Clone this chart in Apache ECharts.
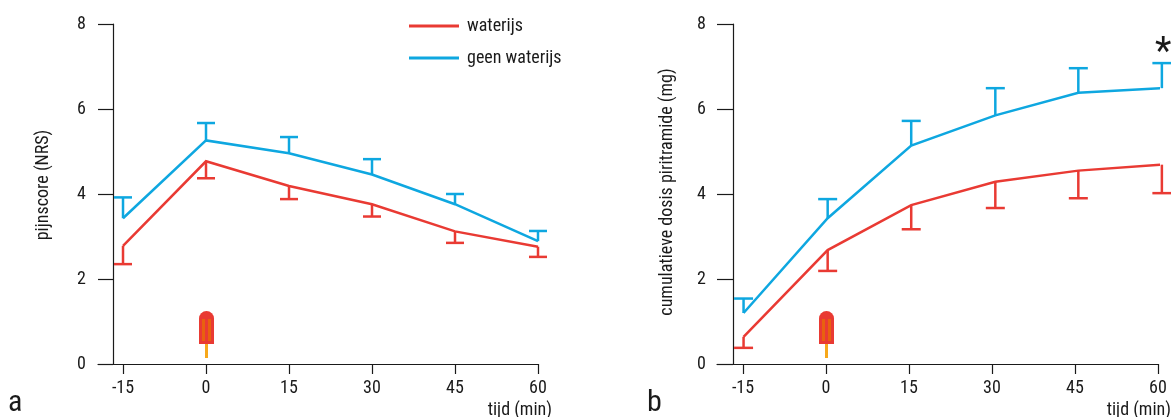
<!DOCTYPE html>
<html><head><meta charset="utf-8">
<style>html,body{margin:0;padding:0;background:#fff}#c{width:1171px;height:417px}</style>
<script src="https://cdn.jsdelivr.net/npm/echarts@6/dist/echarts.min.js"></script>
</head><body><div id="c"></div>
<script>
const tickLabels = [-15, 0, 15, 30, 45, 60];
const seriesNames = ['waterijs', 'geen waterijs'];
const popsicleAt = [0, 0];

const timesA = [-15, 0, 15, 30, 45, 60];
const waterijsA = [2.78, 4.77, 4.19, 3.76, 3.12, 2.76];
const waterijsLowA = [2.35, 4.37, 3.88, 3.47, 2.85, 2.52];
const geenA = [3.43, 5.26, 4.96, 4.46, 3.76, 2.89];
const geenHighA = [3.92, 5.67, 5.34, 4.82, 4.00, 3.13];

const timesB = [-14.9, 0.3, 15.4, 30.6, 45.6, 60.7];
const waterijsB = [0.64, 2.68, 3.74, 4.29, 4.55, 4.69];
const waterijsLowB = [0.38, 2.19, 3.17, 3.67, 3.90, 4.02];
const geenB = [1.20, 3.43, 5.14, 5.85, 6.38, 6.49];
const geenHighB = [1.54, 3.88, 5.72, 6.49, 6.96, 7.08];

const RED = '#e93a33', BLUE = '#0ea7e0', INK = '#1a1a1a';
const FONT = '"Roboto Condensed","Liberation Sans",sans-serif';
const FS = 18;

function zip(xs, ys) { return xs.map((x, i) => [x, ys[i]]); }
function line(name, xi, xs, ys, color) {
  return { type: 'line', name, xAxisIndex: xi, yAxisIndex: xi, data: zip(xs, ys), symbol: 'none',
    clip: false, lineStyle: { color, width: 2.5, join: 'miter' }, itemStyle: { color }, z: 3 };
}
function errors(xi, xs, ys, ends, color, capHalf) {
  return { type: 'custom', xAxisIndex: xi, yAxisIndex: xi, clip: false, silent: true, z: 2,
    data: xs.map((x, i) => [x, ys[i], ends[i]]), encode: { x: 0, y: [1, 2] },
    renderItem(p, api) {
      const a = api.coord([api.value(0), api.value(1)]);
      const b = api.coord([api.value(0), api.value(2)]);
      const st = { stroke: color, lineWidth: 2.5, fill: null };
      return { type: 'group', children: [
        { type: 'line', shape: { x1: a[0], y1: a[1], x2: b[0], y2: b[1] }, style: st },
        { type: 'line', shape: { x1: b[0] - capHalf, y1: b[1], x2: b[0] + capHalf, y2: b[1] }, style: st }
      ] };
    } };
}
function popsicle(xi) {
  return { type: 'custom', xAxisIndex: xi, yAxisIndex: xi, clip: false, silent: true, z: 2,
    data: [popsicleAt], encode: { x: 0, y: 1 },
    renderItem(p, api) {
      const c = api.coord([api.value(0), api.value(1)]);
      const x = c[0], y = c[1];
      return { type: 'group', children: [
        { type: 'rect', shape: { x: x - 1, y: y - 21, width: 3, height: 15 }, style: { fill: '#f7a81b' } },
        { type: 'rect', shape: { x: x - 7, y: y - 53, width: 15, height: 33, r: [7.5, 7.5, 0, 0] }, style: { fill: RED } },
        { type: 'rect', shape: { x: x - 4, y: y - 45, width: 3, height: 22 }, style: { fill: '#e8610f' } },
        { type: 'rect', shape: { x: x + 2, y: y - 45, width: 3, height: 22 }, style: { fill: '#e8610f' } }
      ] };
    } };
}
function xAxis(gi, min) {
  return { type: 'value', gridIndex: gi, min, max: 60, splitLine: { show: false },
    name: 'tijd (min)', nameLocation: 'end', nameGap: gi === 0 ? 14 : 13,
    nameTextStyle: { color: INK, fontFamily: FONT, fontSize: FS, align: 'right', verticalAlign: 'top', padding: [37, 0, 0, 0] },
    axisLine: { onZero: false, lineStyle: { color: INK, width: 1.2 } },
    axisTick: { length: 10, customValues: tickLabels, lineStyle: { color: INK, width: 1.2 } },
    axisLabel: { customValues: tickLabels, margin: 15, color: INK, fontFamily: FONT, fontSize: FS, hideOverlap: false } };
}
function yAxis(gi, offset, name, gap, shift) {
  return { type: 'value', gridIndex: gi, min: 0, max: 8, interval: 2, position: 'left', offset,
    splitLine: { show: false },
    name, nameLocation: 'middle', nameRotate: 90, nameGap: gap,
    nameTextStyle: { color: INK, fontFamily: FONT, fontSize: FS, padding: [0, 0, 0, shift] },
    axisLine: { show: true, onZero: false, lineStyle: { color: INK, width: 1.2 } },
    axisTick: { show: true, length: -offset, lineStyle: { color: INK, width: 1.2 } },
    axisLabel: { margin: 27, color: INK, fontFamily: FONT, fontSize: FS } };
}
const chart = echarts.init(document.getElementById('c'), null, { renderer: 'canvas' });
chart.setOption({
  animation: false,
  backgroundColor: '#fff',
  grid: [
    { left: 98, right: 633, top: 24, bottom: 53, outerBoundsMode: 'none' },
    { left: 717, right: 13, top: 24, bottom: 53, outerBoundsMode: 'none' }
  ],
  xAxis: [xAxis(0, -19.52), xAxis(1, -19.7)],
  yAxis: [yAxis(0, -15, 'pijnscore (NRS)', 61, 18), yAxis(1, -16, 'cumulatieve dosis piritramide (mg)', 57, 4)],
  legend: {
    left: 404, top: 11, orient: 'vertical', itemWidth: 50, itemHeight: 3, itemGap: 12, icon: 'rect',
    data: seriesNames,
    textStyle: { color: INK, fontFamily: FONT, fontSize: FS, lineHeight: 20, padding: [0, 0, 0, 3] }
  },
  graphic: [
    { type: 'text', left: 8, top: 388, style: { text: 'a', fill: INK, font: '30px ' + FONT } },
    { type: 'text', left: 647, top: 388, style: { text: 'b', fill: INK, font: '30px ' + FONT } },
    { type: 'text', left: 1155, top: 35, style: { text: '*', fill: INK, font: '38px ' + FONT } }
  ],
  series: [
    errors(0, timesA, waterijsA, waterijsLowA, RED, 9),
    errors(0, timesA, geenA, geenHighA, BLUE, 9),
    line(seriesNames[0], 0, timesA, waterijsA, RED),
    line(seriesNames[1], 0, timesA, geenA, BLUE),
    popsicle(0),
    errors(1, timesB, waterijsB, waterijsLowB, RED, 9.5),
    errors(1, timesB, geenB, geenHighB, BLUE, 9.5),
    line(seriesNames[0], 1, timesB, waterijsB, RED),
    line(seriesNames[1], 1, timesB, geenB, BLUE),
    popsicle(1)
  ]
});
</script></body></html>
